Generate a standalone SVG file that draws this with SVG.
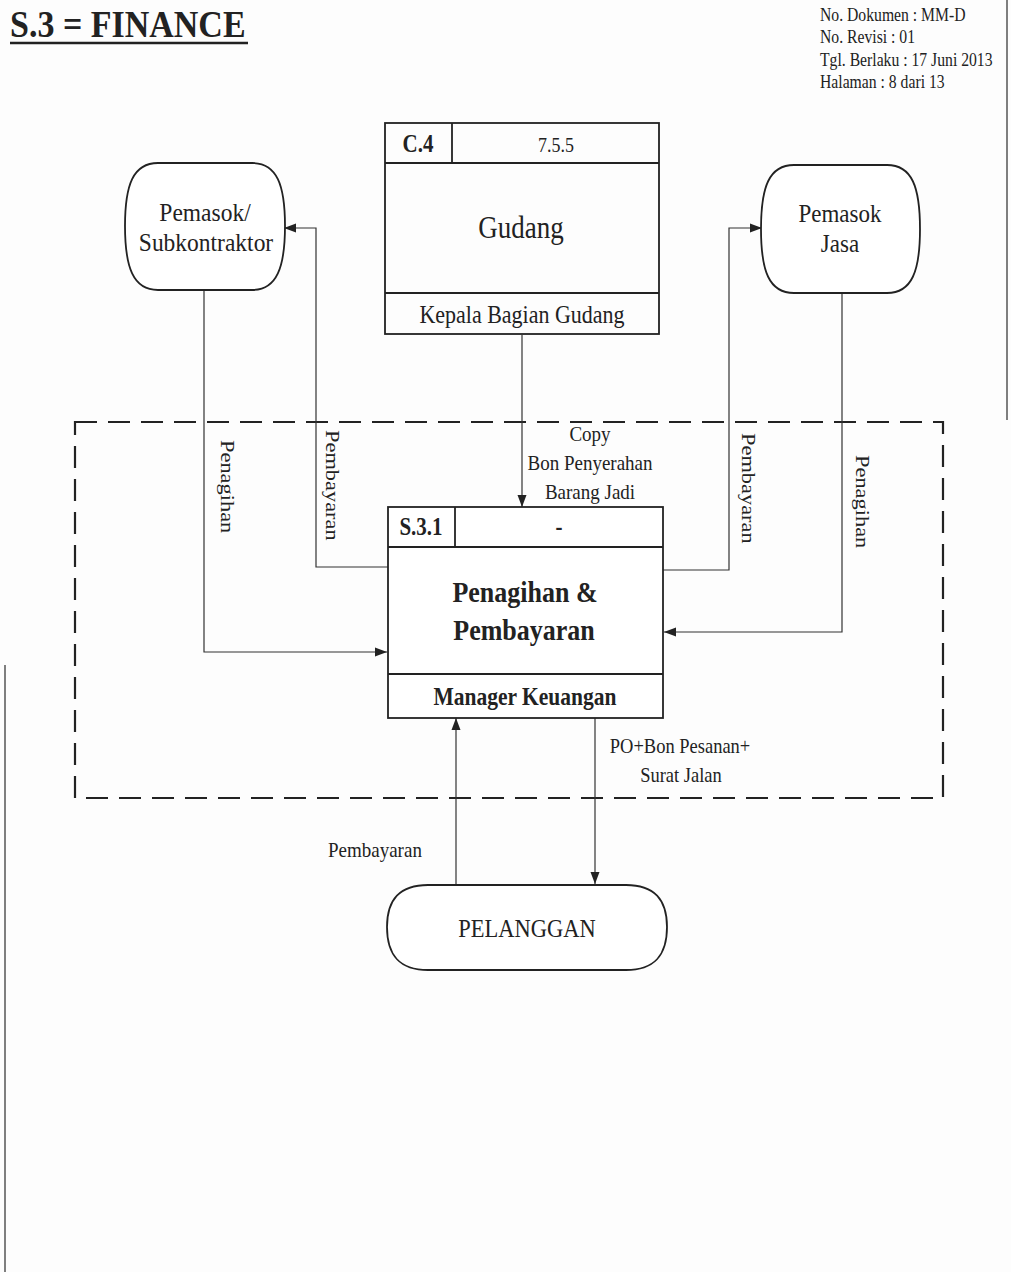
<svg xmlns="http://www.w3.org/2000/svg" width="1011" height="1272" viewBox="0 0 1011 1272">
<style>
.t{font-family:"Liberation Serif","Times New Roman",serif;fill:#222}
.b{font-weight:bold}
.box{fill:none;stroke:#222;stroke-width:1.8}
.sh{fill:#fff;stroke:#222;stroke-width:1.8}
.c{fill:none;stroke:#333;stroke-width:1.2}
.edge{fill:none;stroke:#555;stroke-width:1.5}
</style>
<defs>
<marker id="ah" viewBox="0 0 12 10" refX="12" refY="5" markerWidth="12" markerHeight="10" markerUnits="userSpaceOnUse" orient="auto">
<path d="M0,0.5 L12,5 L0,9.5 Z" fill="#222"/>
</marker>
</defs>
<rect width="1011" height="1272" fill="#fdfdfd"/>
<line class="edge" x1="1007" y1="0" x2="1007" y2="420"/>
<line class="edge" x1="5" y1="665" x2="5" y2="1272"/>

<g id="title">
<text class="t b" transform="translate(10 37) scale(1 1.12)" font-size="34">S.3 = FINANCE</text>
<line x1="10" y1="43" x2="248" y2="43" stroke="#222" stroke-width="2.5"/>
</g>
<g id="header">
<text class="t" transform="translate(820 21) scale(1 1.15)" font-size="15.7">No. Dokumen : MM-D</text>
<text class="t" transform="translate(820 43) scale(1 1.15)" font-size="15.7">No. Revisi : 01</text>
<text class="t" transform="translate(820 66) scale(1 1.15)" font-size="15.7">Tgl. Berlaku : 17 Juni 2013</text>
<text class="t" transform="translate(820 88) scale(1 1.15)" font-size="15.7">Halaman : 8 dari 13</text>
</g>

<g id="boundary">
<rect x="75" y="422" width="868" height="376" fill="none" stroke="#222" stroke-width="2.2" stroke-dasharray="22 11"/>
</g>

<g id="connectors">
<path class="c" d="M522,335 V507" marker-end="url(#ah)"/>
<path class="c" d="M204,290 V652 H387" marker-end="url(#ah)"/>
<path class="c" d="M388,567 H316 V228 H284" marker-end="url(#ah)"/>
<path class="c" d="M663,570 H729 V228 H762" marker-end="url(#ah)"/>
<path class="c" d="M842,293 V632 H664" marker-end="url(#ah)"/>
<path class="c" d="M456,884 V718" marker-end="url(#ah)"/>
<path class="c" d="M595,718 V884" marker-end="url(#ah)"/>
<text class="t" transform="translate(590 441) scale(1 1.15)" text-anchor="middle" font-size="19">Copy</text>
<text class="t" transform="translate(590 470) scale(1 1.15)" text-anchor="middle" font-size="19">Bon Penyerahan</text>
<text class="t" transform="translate(590 499) scale(1 1.15)" text-anchor="middle" font-size="19">Barang Jadi</text>
<text class="t" transform="translate(221 440) rotate(90) scale(1.18 1)" font-size="19">Penagihan</text>
<text class="t" transform="translate(326 430) rotate(90) scale(1.18 1)" font-size="19">Pembayaran</text>
<text class="t" transform="translate(742 433) rotate(90) scale(1.18 1)" font-size="19">Pembayaran</text>
<text class="t" transform="translate(856 455) rotate(90) scale(1.18 1)" font-size="19">Penagihan</text>
<text class="t" transform="translate(680 753) scale(1 1.15)" text-anchor="middle" font-size="18.5">PO+Bon Pesanan+</text>
<text class="t" transform="translate(681 782) scale(1 1.15)" text-anchor="middle" font-size="18.5">Surat Jalan</text>
<text class="t" transform="translate(328 857) scale(1 1.15)" font-size="19">Pembayaran</text>
</g>

<g id="gudang">
<rect class="box" x="385" y="123" width="274" height="211"/>
<line class="box" x1="385" y1="163" x2="659" y2="163"/>
<line class="box" x1="452" y1="123" x2="452" y2="163"/>
<line class="box" x1="385" y1="293" x2="659" y2="293"/>
<text class="t b" transform="translate(418 152) scale(1 1.15)" text-anchor="middle" font-size="21">C.4</text>
<text class="t" transform="translate(556 152) scale(1 1.15)" text-anchor="middle" font-size="18">7.5.5</text>
<text class="t" transform="translate(521 238) scale(1 1.2)" text-anchor="middle" font-size="27">Gudang</text>
<text class="t" transform="translate(522 323) scale(1 1.15)" text-anchor="middle" font-size="22">Kepala Bagian Gudang</text>
</g>

<g id="pemasok-subkontraktor">
<path class="sh" d="M158,163 L252,163 C277,163 285,185 285,226 C285,267 277,290 252,290 L158,290 C133,290 125,267 125,226 C125,185 133,163 158,163 Z"/>
<text class="t" transform="translate(205 221) scale(1 1.1)" text-anchor="middle" font-size="23.5">Pemasok/</text>
<text class="t" transform="translate(206 251) scale(1 1.1)" text-anchor="middle" font-size="23.5">Subkontraktor</text>
</g>

<g id="pemasok-jasa">
<path class="sh" d="M794,165 L887,165 C912,165 920,187 920,229 C920,271 912,293 887,293 L794,293 C769,293 761,271 761,229 C761,187 769,165 794,165 Z"/>
<text class="t" transform="translate(840 222) scale(1 1.1)" text-anchor="middle" font-size="23">Pemasok</text>
<text class="t" transform="translate(840 252) scale(1 1.1)" text-anchor="middle" font-size="23">Jasa</text>
</g>

<g id="s31">
<rect class="sh" x="388" y="507" width="275" height="211"/>
<line class="box" x1="388" y1="547" x2="663" y2="547"/>
<line class="box" x1="455" y1="507" x2="455" y2="547"/>
<line class="box" x1="388" y1="674" x2="663" y2="674"/>
<text class="t b" transform="translate(421 535) scale(1 1.15)" text-anchor="middle" font-size="21">S.3.1</text>
<text class="t b" transform="translate(559 535) scale(1 1.15)" text-anchor="middle" font-size="21">-</text>
<text class="t b" transform="translate(525 602) scale(1 1.15)" text-anchor="middle" font-size="26">Penagihan &amp;</text>
<text class="t b" transform="translate(524 640) scale(1 1.15)" text-anchor="middle" font-size="26">Pembayaran</text>
<text class="t b" transform="translate(525 705) scale(1 1.15)" text-anchor="middle" font-size="21.5">Manager Keuangan</text>
</g>

<g id="pelanggan">
<path class="sh" d="M428,885 L626,885 C655,885 667,900 667,927 C667,955 655,970 626,970 L428,970 C399,970 387,955 387,927 C387,900 399,885 428,885 Z"/>
<text class="t" transform="translate(527 937) scale(1 1.15)" text-anchor="middle" font-size="22.5">PELANGGAN</text>
</g>
</svg>
